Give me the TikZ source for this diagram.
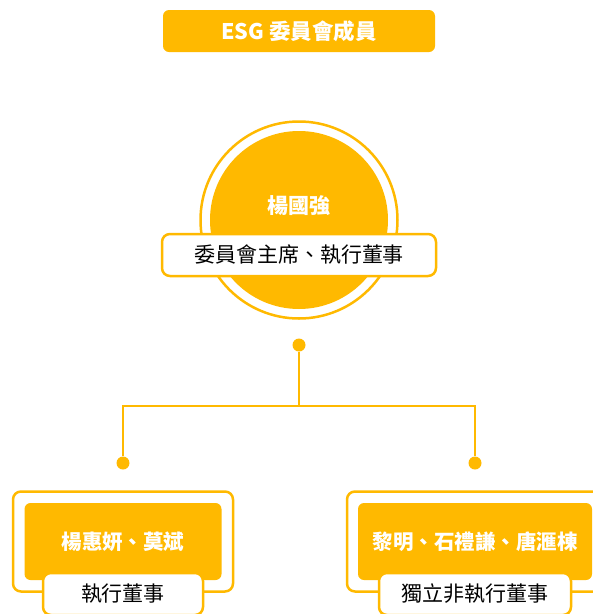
\documentclass[tikz,border=0pt]{standalone}
\usepackage{fontspec}
\setmainfont{Noto Sans CJK TC}
\definecolor{esgamber}{HTML}{FFB900}

\begin{document}
\begin{tikzpicture}[x=1pt,y=-1pt,
  every node/.style={inner sep=0pt, font=\fontsize{21}{25}\selectfont},
  headbox/.style={fill=esgamber, rounded corners=6pt, text=white, font=\fontsize{20.5}{25}\selectfont\bfseries},
  rolebox/.style={fill=white, draw=esgamber, line width=2.5pt, rounded corners=8pt, minimum height=42pt},
  joint/.style={circle, fill=esgamber, minimum size=13pt},
  link/.style={draw=esgamber, line width=2.5pt}]
  \useasboundingbox (0,0) rectangle (593,614);
  %\node at (299,0) {committee};
  \node[headbox, minimum width=272pt, minimum height=42pt, font=\fontsize{21.5}{25}\selectfont\bfseries] (title) at (299,31) {ESG 委員會成員};
  \node[circle, draw=esgamber, line width=2.5pt, minimum size=197pt] (ring) at (299,220) {};
  \node[circle, fill=esgamber, minimum size=178pt] (chair) at (299,220) {};
  \node[text=white, font=\fontsize{21}{25}\selectfont\bfseries] (chairname) at (299,206) {楊國強};
  \node[rolebox, minimum width=274pt] (chairrole) at (299,255) {委員會主席、執行董事};
  \node[joint] (topdot) at (299,345) {};
  \coordinate (fork) at (299,406);
  \foreach \cx/\ow/\iw/\lw/\who/\role/\nm in {
        123/220/197/160/楊惠妍、莫斌/執行董事/exec,
        475/256/234/192/黎明、石禮謙、唐滙棟/獨立非執行董事/indep} {
       \node[joint] (\nm-dot) at (\cx,463) {};
       \node[draw=esgamber, line width=2.5pt, rounded corners=8pt, minimum width=\ow pt, minimum height=100pt] (\nm-frame) at (\cx,541.5) {};
       \node[headbox, minimum width=\iw pt, minimum height=77pt] (\nm-names) at (\cx,541.5) {\who};
       \node[rolebox, minimum width=\lw pt] (\nm-role) at (\cx,594) {\role};
  }
  \draw[link] (topdot) -- (fork);
  \draw[link] (exec-dot) |- (fork) -| (indep-dot);
\end{tikzpicture}
\end{document}
